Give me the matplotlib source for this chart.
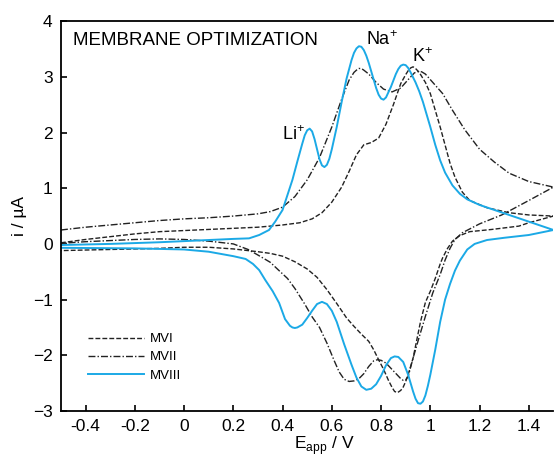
import numpy as np
import matplotlib
matplotlib.use('Agg')
import matplotlib.pyplot as plt

plt.rcParams['font.family'] = ['Liberation Sans', 'DejaVu Sans']

# MVI (dashed) - forward / reverse scan
mv1_fx = [-0.5, -0.4, -0.3, -0.2, -0.1, 0.0, 0.1, 0.2, 0.3, 0.4, 0.47, 0.52, 0.56, 0.6, 0.64, 0.67,
          0.7, 0.73, 0.76, 0.79, 0.82, 0.85, 0.88, 0.9, 0.91, 0.92, 0.93, 0.94, 0.955, 0.98, 1.0,
          1.04, 1.08, 1.1, 1.13, 1.16, 1.23, 1.32, 1.4, 1.5]
mv1_fy = [0.02, 0.08, 0.13, 0.18, 0.22, 0.24, 0.26, 0.28, 0.3, 0.34, 0.38, 0.45, 0.56, 0.75, 1.02, 1.3,
          1.6, 1.78, 1.82, 1.9, 2.15, 2.5, 2.88, 3.04, 3.11, 3.16, 3.18, 3.15, 3.08, 2.9, 2.7,
          2.1, 1.45, 1.2, 0.93, 0.78, 0.65, 0.56, 0.52, 0.5]
mv1_rx = [1.5, 1.4, 1.36, 1.25, 1.16, 1.12, 1.09, 1.07, 1.05, 1.04, 1.02, 1.0, 0.98, 0.96, 0.93, 0.91,
          0.9, 0.89, 0.88, 0.867, 0.855, 0.845, 0.83, 0.81, 0.79, 0.77, 0.75, 0.72, 0.69, 0.66, 0.62,
          0.58, 0.54, 0.5, 0.45, 0.4, 0.35, 0.3, 0.2, 0.1, 0.0, -0.1, -0.3, -0.5]
mv1_ry = [0.5, 0.38, 0.32, 0.26, 0.22, 0.15, 0.05, -0.08, -0.25, -0.36, -0.62, -0.85, -1.05, -1.4, -2.05, -2.35,
          -2.47, -2.57, -2.63, -2.67, -2.65, -2.58, -2.45, -2.25, -2.08, -1.9, -1.75, -1.62, -1.48, -1.33, -1.07,
          -0.82, -0.6, -0.45, -0.32, -0.22, -0.17, -0.14, -0.09, -0.06, -0.06, -0.08, -0.1, -0.12]

# MVII (dash-dot)
mv2_fx = [-0.5, -0.4, -0.3, -0.2, -0.1, 0.0, 0.1, 0.2, 0.3, 0.35, 0.4, 0.45, 0.5, 0.55, 0.6, 0.64,
          0.67, 0.69, 0.7, 0.71, 0.72, 0.73, 0.75, 0.78, 0.81, 0.845, 0.88, 0.91, 0.935, 0.945, 0.955,
          0.965, 0.98, 1.0, 1.05, 1.09, 1.14, 1.2, 1.26, 1.32, 1.4, 1.5]
mv2_fy = [0.25, 0.3, 0.34, 0.38, 0.42, 0.45, 0.47, 0.5, 0.54, 0.58, 0.66, 0.85, 1.15, 1.55, 2.1, 2.6,
          2.94, 3.08, 3.12, 3.15, 3.15, 3.12, 3.05, 2.9, 2.78, 2.73, 2.8, 2.95, 3.07, 3.09, 3.1,
          3.09, 3.05, 2.95, 2.7, 2.4, 2.05, 1.7, 1.47, 1.27, 1.12, 1.02]
mv2_rx = [1.5, 1.4, 1.29, 1.2, 1.13, 1.1, 1.08, 1.06, 1.04, 1.01, 0.98, 0.955, 0.93, 0.91, 0.9, 0.89,
          0.88, 0.85, 0.82, 0.8, 0.785, 0.77, 0.75, 0.73, 0.71, 0.69, 0.67, 0.65, 0.63, 0.61, 0.58,
          0.55, 0.52, 0.49, 0.45, 0.42, 0.386, 0.35, 0.3, 0.26, 0.2, 0.1, 0.0, -0.1, -0.2, -0.3,
          -0.4, -0.5]
mv2_ry = [1.02, 0.78, 0.52, 0.36, 0.2, 0.08, -0.08, -0.29, -0.55, -0.88, -1.3, -1.67, -2.05, -2.38, -2.44, -2.45,
          -2.42, -2.28, -2.14, -2.09, -2.08, -2.1, -2.2, -2.33, -2.42, -2.46, -2.47, -2.43, -2.3, -2.1, -1.78,
          -1.5, -1.31, -1.08, -0.8, -0.62, -0.48, -0.33, -0.2, -0.1, 0.0, 0.05, 0.08, 0.09, 0.08, 0.06,
          0.04, 0.01]

# MVIII (cyan solid)
mv3_fx = [-0.5, -0.3, -0.1, 0.1, 0.2, 0.264, 0.305, 0.345, 0.37, 0.4, 0.42, 0.44, 0.46, 0.48, 0.49, 0.5,
          0.51, 0.52, 0.53, 0.54, 0.55, 0.56, 0.57, 0.58, 0.59, 0.6, 0.62, 0.64, 0.66, 0.68, 0.69,
          0.7, 0.71, 0.72, 0.73, 0.74, 0.75, 0.76, 0.78, 0.79, 0.8, 0.81, 0.82, 0.84, 0.86, 0.87,
          0.88, 0.89, 0.9, 0.91, 0.92, 0.94, 0.955, 0.97, 0.98, 1.0, 1.02, 1.04, 1.06, 1.09, 1.12,
          1.15, 1.2, 1.3, 1.4, 1.5]
mv3_fy = [-0.02, 0.0, 0.03, 0.07, 0.09, 0.1, 0.16, 0.25, 0.4, 0.61, 0.88, 1.15, 1.48, 1.8, 1.95, 2.04,
          2.07, 2.02, 1.88, 1.7, 1.52, 1.41, 1.38, 1.42, 1.53, 1.7, 2.1, 2.55, 2.97, 3.3, 3.43,
          3.51, 3.55, 3.54, 3.48, 3.38, 3.25, 3.1, 2.8, 2.68, 2.61, 2.59, 2.63, 2.82, 3.05, 3.14,
          3.2, 3.22, 3.21, 3.16, 3.08, 2.9, 2.74, 2.55, 2.4, 2.1, 1.78, 1.5, 1.28, 1.05, 0.9,
          0.8, 0.7, 0.55, 0.4, 0.25]
mv3_rx = [1.5, 1.4, 1.3, 1.23, 1.18, 1.15, 1.12, 1.1, 1.08, 1.06, 1.04, 1.02, 1.0, 0.99, 0.98, 0.97,
          0.96, 0.95, 0.94, 0.93, 0.91, 0.89, 0.87, 0.855, 0.84, 0.82, 0.8, 0.78, 0.76, 0.74, 0.72,
          0.7, 0.68, 0.65, 0.62, 0.6, 0.58, 0.56, 0.54, 0.52, 0.5, 0.48, 0.46, 0.45, 0.44, 0.43,
          0.41, 0.386, 0.36, 0.33, 0.305, 0.28, 0.25, 0.2, 0.1, 0.0, -0.2, -0.5]
mv3_ry = [0.25, 0.16, 0.11, 0.07, 0.0, -0.1, -0.3, -0.48, -0.72, -1.0, -1.4, -1.9, -2.35, -2.55, -2.72, -2.83,
          -2.87, -2.86, -2.78, -2.65, -2.35, -2.12, -2.03, -2.02, -2.05, -2.18, -2.37, -2.52, -2.6, -2.62, -2.56,
          -2.4, -2.17, -1.8, -1.4, -1.2, -1.08, -1.04, -1.08, -1.2, -1.33, -1.45, -1.5, -1.51, -1.5, -1.47,
          -1.35, -1.06, -0.85, -0.65, -0.47, -0.36, -0.27, -0.22, -0.14, -0.1, -0.08, -0.07]

xticks = [-0.4, -0.2, 0, 0.2, 0.4, 0.6, 0.8, 1, 1.2, 1.4]
xticklabels = ['-0.4', '-0.2', '0', '0.2', '0.4', '0.6', '0.8', '1', '1.2', '1.4']
yticks = [-3, -2, -1, 0, 1, 2, 3, 4]

cyan = '#1ba9e6'

fig = plt.figure(figsize=(5.54, 4.57), dpi=100)
ax = fig.add_axes([0.110, 0.1007, 0.889, 0.853])

ax.plot(mv1_fx + mv1_rx, mv1_fy + mv1_ry, color='#222222', lw=1.0, dashes=(3.5, 1.5), label='MVI')
ax.plot(mv2_fx + mv2_rx, mv2_fy + mv2_ry, color='#222222', lw=1.0, dashes=(5, 1.5, 1, 1.5), label='MVII')
ax.plot(mv3_fx + mv3_rx, mv3_fy + mv3_ry, color=cyan, lw=1.4, label='MVIII')

ax.set_xlim(-0.5, 1.5)
ax.set_ylim(-3, 4)
ax.set_xticks(xticks)
ax.set_xticklabels(xticklabels)
ax.set_yticks(yticks)
ax.tick_params(direction='in', length=4, width=1.2, labelsize=12.5, pad=6)
for s in ['left', 'bottom', 'top']:
    ax.spines[s].set_linewidth(1.3)
ax.spines['right'].set_visible(False)

ax.set_xlabel('E$_{\\mathregular{app}}$ / V', fontsize=12.5, labelpad=0, x=0.535)
ax.set_ylabel('i / µA', fontsize=12.5, labelpad=4)

ax.text(-0.45, 3.57, 'MEMBRANE OPTIMIZATION', fontsize=13.5)
ax.text(0.398, 1.87, 'Li$^{\\mathregular{+}}$', fontsize=13)
ax.text(0.74, 3.57, 'Na$^{\\mathregular{+}}$', fontsize=13)
ax.text(0.927, 3.27, 'K$^{\\mathregular{+}}$', fontsize=13)

ax.legend(loc='lower left', bbox_to_anchor=(0.03, 0.045), frameon=False, fontsize=9.5,
          handlelength=4.3, handletextpad=0.4, labelspacing=0.45)

fig.savefig('out.png', dpi=100)
